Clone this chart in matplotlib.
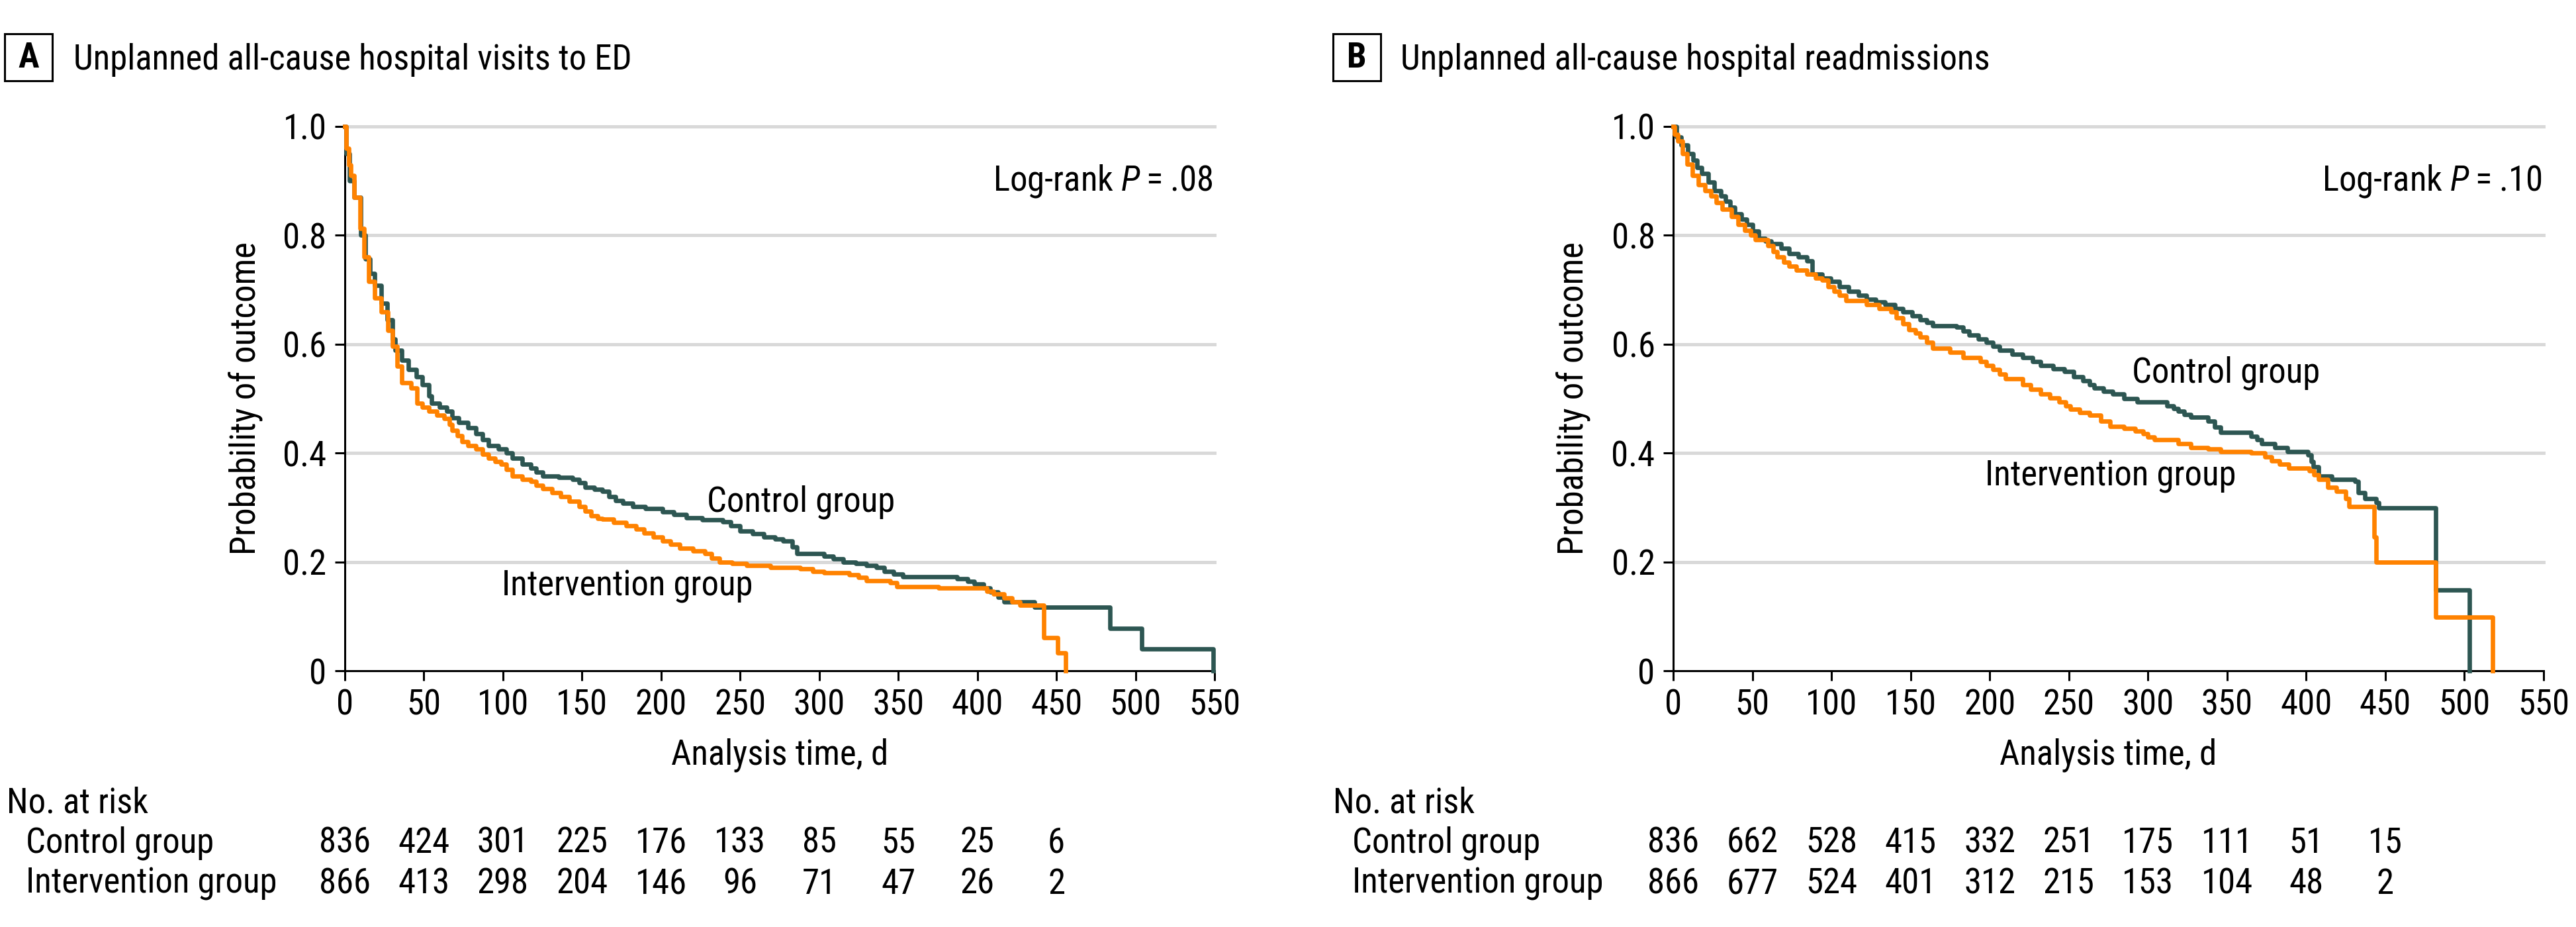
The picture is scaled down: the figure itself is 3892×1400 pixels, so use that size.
import matplotlib
matplotlib.use("Agg")
import matplotlib.pyplot as plt
from matplotlib import font_manager
from matplotlib.patches import Rectangle
from matplotlib.transforms import blended_transform_factory

# ---- data ----
a_ctrl_t = [0, 1, 3, 6, 10, 13, 16, 19, 23, 26.6, 30, 32, 36, 40, 45, 49, 53, 55, 60, 64.5, 68, 72, 78, 83, 87,
            91, 97, 102, 106, 112, 117.6, 121, 125, 135, 144, 148, 152, 158, 163, 167, 171, 176, 182, 190, 201,
            208, 216, 226, 239, 244, 250, 258, 265, 272, 277, 283, 286, 303, 309, 315, 323, 330, 336, 341, 347,
            353, 387, 394, 398, 404, 408, 413, 417, 436, 484, 504, 549]
a_ctrl_s = [1.0, 0.95, 0.90, 0.87, 0.80, 0.757, 0.73, 0.708, 0.675, 0.645, 0.61, 0.589, 0.57, 0.554, 0.54, 0.526,
            0.505, 0.491, 0.484, 0.477, 0.465, 0.456, 0.447, 0.435, 0.425, 0.414, 0.407, 0.400, 0.390, 0.380,
            0.372, 0.365, 0.358, 0.355, 0.351, 0.345, 0.337, 0.333, 0.33, 0.32, 0.313, 0.308, 0.302, 0.298,
            0.292, 0.287, 0.281, 0.277, 0.274, 0.267, 0.257, 0.252, 0.246, 0.242, 0.239, 0.228, 0.215, 0.211,
            0.205, 0.200, 0.197, 0.194, 0.190, 0.183, 0.178, 0.173, 0.169, 0.164, 0.159, 0.152, 0.145, 0.135,
            0.127, 0.117, 0.078, 0.04, 0.0]

a_int_t = [0, 1, 2.5, 3.8, 6, 9.5, 12, 15, 19, 23, 27, 30, 33, 36, 42, 45.5, 49, 53, 58, 62.6, 66, 68, 71, 74, 78,
           83, 87, 91, 95, 98.6, 102, 106, 112, 117.6, 121, 125, 131, 136.6, 142, 148, 152, 155.5, 160, 163, 170,
           178, 184, 189, 195, 201, 206, 212, 220, 227.6, 232, 237, 245, 254, 269, 288, 296, 303, 319, 325, 330,
           345, 349, 375.5, 406, 410, 417, 422, 427, 442, 451, 456]
a_int_s = [1.0, 0.96, 0.93, 0.91, 0.87, 0.813, 0.76, 0.715, 0.685, 0.659, 0.625, 0.596, 0.56, 0.529, 0.519, 0.491,
           0.484, 0.477, 0.47, 0.463, 0.452, 0.442, 0.432, 0.421, 0.414, 0.407, 0.398, 0.39, 0.385, 0.379, 0.37,
           0.358, 0.352, 0.348, 0.341, 0.334, 0.327, 0.32, 0.312, 0.302, 0.293, 0.285, 0.28, 0.278, 0.272, 0.267,
           0.26, 0.253, 0.246, 0.239, 0.232, 0.225, 0.22, 0.215, 0.207, 0.20, 0.197, 0.194, 0.19, 0.187, 0.183,
           0.18, 0.176, 0.171, 0.166, 0.162, 0.155, 0.152, 0.146, 0.141, 0.134, 0.127, 0.12, 0.061, 0.033, 0.0]

b_ctrl_t = [0, 2, 5, 9, 12.5, 15, 18, 22, 26, 30, 33, 36, 39, 43, 46.6, 50, 54, 58, 62, 68, 73, 79, 84.5, 88, 94,
            99.6, 105, 111, 117, 122, 128, 133.7, 140, 145, 151, 156, 160, 164, 179, 183, 187, 193, 198, 202, 206,
            214, 221, 227, 232, 240, 247, 253, 259, 263, 266, 272, 277.6, 285, 293, 312, 316, 319, 323, 327, 338,
            342, 346, 365, 369, 372, 380, 388, 401, 403, 404.6, 408, 416, 431, 433, 437, 444, 446, 482, 503]
b_ctrl_s = [1.0, 0.98, 0.966, 0.95, 0.938, 0.925, 0.914, 0.898, 0.882, 0.872, 0.862, 0.851, 0.84, 0.83, 0.82,
            0.808, 0.795, 0.79, 0.785, 0.776, 0.767, 0.76, 0.753, 0.729, 0.722, 0.715, 0.706, 0.697, 0.69, 0.683,
            0.678, 0.673, 0.666, 0.659, 0.652, 0.645, 0.64, 0.634, 0.631, 0.624, 0.617, 0.61, 0.603, 0.596, 0.589,
            0.582, 0.575, 0.568, 0.561, 0.555, 0.55, 0.54, 0.533, 0.526, 0.519, 0.513, 0.508, 0.5, 0.494, 0.487,
            0.482, 0.477, 0.471, 0.466, 0.459, 0.448, 0.438, 0.431, 0.424, 0.417, 0.41, 0.403, 0.396, 0.385,
            0.375, 0.358, 0.351, 0.348, 0.327, 0.316, 0.309, 0.299, 0.148, 0.0]

b_int_t = [0, 1, 3, 6, 8.7, 12, 16, 20, 24, 27, 31, 37, 41, 45, 49, 52, 60, 63, 65.5, 70, 73, 78, 84.5, 90, 94, 98,
           101.5, 105, 109, 122, 130, 137.5, 141, 145, 149, 153, 156, 160, 164, 175, 183, 194, 198, 202, 206, 210,
           221, 226, 232, 238, 244, 248, 251, 257, 263, 270, 276, 285, 292, 297, 300, 304, 319, 327, 338, 346,
           365, 374, 378, 383, 389, 402, 405, 408, 413.5, 419, 425, 427, 443, 444, 482, 518]
b_int_s = [1.0, 0.985, 0.973, 0.95, 0.931, 0.91, 0.893, 0.882, 0.872, 0.86, 0.848, 0.834, 0.82, 0.809, 0.8, 0.792,
           0.781, 0.77, 0.76, 0.75, 0.743, 0.736, 0.729, 0.722, 0.718, 0.706, 0.697, 0.69, 0.68, 0.673, 0.666,
           0.659, 0.648, 0.637, 0.627, 0.62, 0.613, 0.603, 0.592, 0.585, 0.575, 0.568, 0.561, 0.554, 0.545, 0.536,
           0.526, 0.517, 0.508, 0.501, 0.494, 0.487, 0.48, 0.475, 0.47, 0.459, 0.449, 0.445, 0.44, 0.435, 0.43,
           0.424, 0.417, 0.41, 0.407, 0.403, 0.40, 0.393, 0.386, 0.379, 0.372, 0.368, 0.36, 0.351, 0.337, 0.33,
           0.316, 0.302, 0.246, 0.20, 0.099, 0.0]

risk_times = [0, 50, 100, 150, 200, 250, 300, 350, 400, 450]
a_risk_ctrl = [836, 424, 301, 225, 176, 133, 85, 55, 25, 6]
a_risk_int = [866, 413, 298, 204, 146, 96, 71, 47, 26, 2]
b_risk_ctrl = [836, 662, 528, 415, 332, 251, 175, 111, 51, 15]
b_risk_int = [866, 677, 524, 401, 312, 215, 153, 104, 48, 2]

# ---- style ----
W, H = 3892, 1400
DPI = 200
CTRL = "#2d5652"
INTV = "#ff8200"
GRID = "#d9d9d9"
FS = 19

names = {f.name for f in font_manager.fontManager.ttflist}
FONT = next((n for n in ["Liberation Sans Narrow", "Roboto Condensed", "DejaVu Sans"] if n in names), "DejaVu Sans")
plt.rcParams["font.family"] = [FONT, "DejaVu Sans"]
plt.rcParams["mathtext.fontset"] = "custom"
plt.rcParams["mathtext.it"] = f"{FONT}:italic"
plt.rcParams["mathtext.rm"] = FONT


def fx(px):
    return px / W


def fy(py):
    return 1 - py / H


fig = plt.figure(figsize=(W / DPI, H / DPI), dpi=DPI)

panels = [
    dict(left=521, right=1835, letter="A", box_x=7, text_x=111,
         title="Unplanned all-cause hospital visits to ED",
         ctrl=(a_ctrl_t, a_ctrl_s), intv=(a_int_t, a_int_s), p=".08",
         ctrl_lab=(229, 0.31), int_lab=(99, 0.155), ylab_x=372, table_x=10,
         risk=(a_risk_ctrl, a_risk_int)),
    dict(left=2528, right=3843, letter="B", box_x=2014, text_x=2116,
         title="Unplanned all-cause hospital readmissions",
         ctrl=(b_ctrl_t, b_ctrl_s), intv=(b_int_t, b_int_s), p=".10",
         ctrl_lab=(290, 0.547), int_lab=(197, 0.357), ylab_x=2378, table_x=2014,
         risk=(b_risk_ctrl, b_risk_int)),
]

top, bottom = 191, 1013
for p in panels:
    ax = fig.add_axes([fx(p["left"]), fy(bottom), fx(p["right"] - p["left"]), (bottom - top) / H])
    ax.set_xlim(0, 550)
    ax.set_ylim(0, 1.0)
    for s in ["top", "right"]:
        ax.spines[s].set_visible(False)
    for s in ["left", "bottom"]:
        ax.spines[s].set_linewidth(1.1)
    ax.set_yticks([0, 0.2, 0.4, 0.6, 0.8, 1.0])
    ax.set_yticklabels(["0", "0.2", "0.4", "0.6", "0.8", "1.0"])
    ax.set_xticks(range(0, 551, 50))
    ax.tick_params(axis="both", length=5.4, width=1.1, labelsize=FS, direction="out")
    ax.tick_params(axis="y", pad=4.5)
    ax.tick_params(axis="x", pad=4)
    for g in [0.2, 0.4, 0.6, 0.8, 1.0]:
        ax.axhline(g, color=GRID, lw=1.8, zorder=0, clip_on=False)

    ax.step(*p["ctrl"], where="post", color=CTRL, lw=2.4, zorder=3, clip_on=False)
    ax.step(*p["intv"], where="post", color=INTV, lw=2.4, zorder=4, clip_on=False)

    ax.text(549, 0.90, "Log-rank $\\mathit{P}$\u2009=\u2009" + p["p"], ha="right", va="center", fontsize=FS)
    ax.text(p["ctrl_lab"][0], p["ctrl_lab"][1], "Control group", ha="left", va="center", fontsize=FS)
    ax.text(p["int_lab"][0], p["int_lab"][1], "Intervention group", ha="left", va="center", fontsize=FS)

    fig.text(fx((p["left"] + p["right"]) / 2), fy(1140), "Analysis time, d", ha="center", va="center", fontsize=FS)
    fig.text(fx(p["ylab_x"]), fy((top + bottom) / 2), "Probability of outcome", rotation=90,
             ha="center", va="center", fontsize=FS)

    # panel title with boxed letter
    fig.add_artist(Rectangle((fx(p["box_x"]), fy(122)), 72 / W, 71 / H, transform=fig.transFigure,
                             fc="white", ec="black", lw=1.1))
    fig.text(fx(p["box_x"] + 36), fy(87), p["letter"], ha="center", va="center",
             fontsize=FS, fontweight="bold")
    fig.text(fx(p["text_x"]), fy(105), p["title"], ha="left", va="baseline", fontsize=FS)

    # number at risk table
    tr = blended_transform_factory(ax.transData, fig.transFigure)
    fig.text(fx(p["table_x"]), fy(1213), "No. at risk", ha="left", va="center", fontsize=FS)
    fig.text(fx(p["table_x"] + 29), fy(1273), "Control group", ha="left", va="center", fontsize=FS)
    fig.text(fx(p["table_x"] + 29), fy(1335), "Intervention group", ha="left", va="center", fontsize=FS)
    rc, ri = p["risk"]
    for t, n1, n2 in zip(risk_times, rc, ri):
        ax.text(t, fy(1273), str(n1), transform=tr, ha="center", va="center", fontsize=FS)
        ax.text(t, fy(1335), str(n2), transform=tr, ha="center", va="center", fontsize=FS)

fig.savefig("out.png", dpi=DPI)
